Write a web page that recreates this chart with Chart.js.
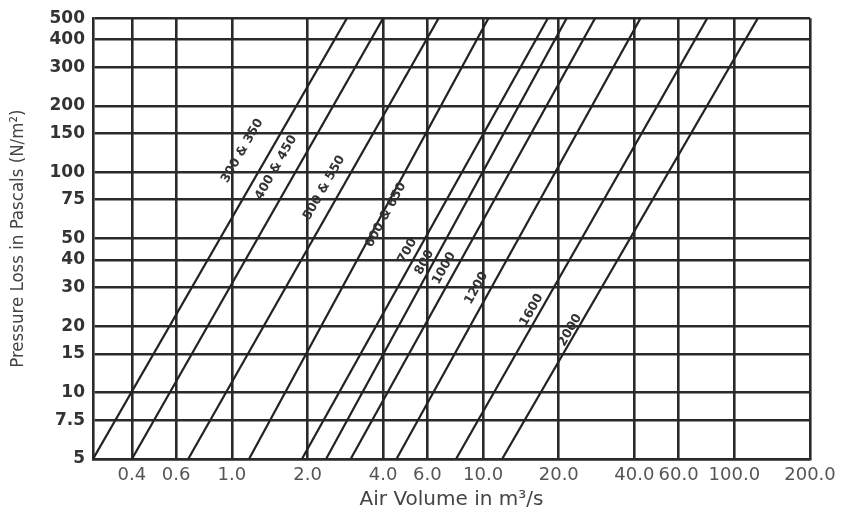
<!DOCTYPE html>
<html>
<head>
<meta charset="utf-8">
<script src="https://cdn.jsdelivr.net/npm/chart.js@4.4.0/dist/chart.umd.min.js"></script>
<style>
  html, body { margin: 0; padding: 0; background: #fff; }
  #wrap { width: 842px; height: 517px; }
</style>
</head>
<body>
<div id="wrap"><canvas id="lossChart" width="842" height="517"></canvas></div>
<script>
// duct sizes, and the air volume where each line meets 5 Pa (bottom) and 500 Pa (top)
const ductSizes = ['300 & 350', '400 & 450', '500 & 550', '600 & 650', '700', '800', '1000', '1200', '1600', '2000'];
const volumeAt5Pa = [0.28, 0.40, 0.67, 1.17, 1.9, 2.37, 2.97, 4.52, 7.8, 11.9];
const volumeAt500Pa = [2.87, 4.0, 6.65, 10.5, 18.1, 21.5, 27.9, 42.3, 78, 124];

// where the size labels sit (air volume, pressure)
const labelVolume = [1.1, 1.5, 2.33, 4.1, 5.0, 5.84, 7.0, 9.4, 15.6, 22.2];
const labelPressure = [125, 105, 85, 64, 44, 39, 36.7, 29.8, 23.7, 19.2];

const xTicks = [0.4, 0.6, 1, 2, 4, 6, 10, 20, 40, 60, 100, 200];
const yTicks = [5, 7.5, 10, 15, 20, 30, 40, 50, 75, 100, 150, 200, 300, 400, 500];

const GRID = '#2a2a2a';

// build one dataset per duct line
const datasets = ductSizes.map((name, i) => ({
  label: name,
  data: [{ x: volumeAt5Pa[i], y: 5 }, { x: volumeAt500Pa[i], y: 500 }],
  showLine: true,
  borderColor: '#222',
  borderWidth: 2.2,
  pointRadius: 0,
  fill: false
}));

// writes the duct size along each line
const lineLabels = {
  id: 'lineLabels',
  afterDatasetsDraw(chart) {
    const { ctx, scales: { x, y } } = chart;
    ctx.save();
    ctx.font = 'bold 12.5px "DejaVu Sans"';
    ctx.fillStyle = '#333';
    ctx.textAlign = 'center';
    ctx.textBaseline = 'middle';
    ductSizes.forEach((name, i) => {
      const x1 = x.getPixelForValue(volumeAt5Pa[i]), y1 = y.getPixelForValue(5);
      const x2 = x.getPixelForValue(volumeAt500Pa[i]), y2 = y.getPixelForValue(500);
      ctx.save();
      ctx.translate(x.getPixelForValue(labelVolume[i]), y.getPixelForValue(labelPressure[i]));
      ctx.rotate(Math.atan2(y2 - y1, x2 - x1));
      ctx.fillText(name, 0, 0);
      ctx.restore();
    });
    ctx.restore();
  }
};

const ctx = document.getElementById('lossChart').getContext('2d');
new Chart(ctx, {
  type: 'scatter',
  data: { datasets: datasets },
  plugins: [lineLabels],
  options: {
    responsive: false,
    animation: false,
    devicePixelRatio: 1,
    layout: { padding: { top: 18, right: 32, bottom: 0, left: 0 } },
    plugins: {
      legend: { display: false },
      tooltip: { enabled: false }
    },
    scales: {
      x: {
        type: 'logarithmic',
        min: 0.28,
        max: 200,
        afterBuildTicks: (scale) => { scale.ticks = xTicks.map(v => ({ value: v })); },
        afterFit: (scale) => { scale.height = 58; },
        ticks: {
          autoSkip: false,
          maxRotation: 0,
          padding: 6,
          color: '#555',
          font: { family: 'DejaVu Sans', size: 18 },
          callback: (v) => Number(v).toFixed(1)
        },
        grid: { color: GRID, lineWidth: 2.6, drawTicks: false },
        border: { color: GRID, width: 2.6 },
        title: {
          display: true,
          text: 'Air Volume in m³/s',
          color: '#444',
          font: { family: 'DejaVu Sans', size: 20 },
          padding: { top: 0, bottom: 5 }
        }
      },
      y: {
        type: 'logarithmic',
        min: 5,
        max: 500,
        afterBuildTicks: (scale) => { scale.ticks = yTicks.map(v => ({ value: v })); },
        afterFit: (scale) => { scale.width = 93; },
        ticks: {
          autoSkip: false,
          padding: 8,
          color: '#333',
          font: { family: 'DejaVu Sans', size: 17, weight: 'bold' },
          callback: (v) => (v === 7.5 ? '7.5' : String(v))
        },
        grid: { color: GRID, lineWidth: 2.6, drawTicks: false },
        border: { color: GRID, width: 2.6 },
        title: {
          display: true,
          text: 'Pressure Loss in Pascals (N/m²)',
          color: '#444',
          font: { family: "'Liberation Sans Narrow', 'DejaVu Sans Condensed', 'Liberation Sans'", size: 18.5 },
          padding: { top: 7, bottom: 0 }
        }
      }
    }
  }
});
</script>
</body>
</html>
